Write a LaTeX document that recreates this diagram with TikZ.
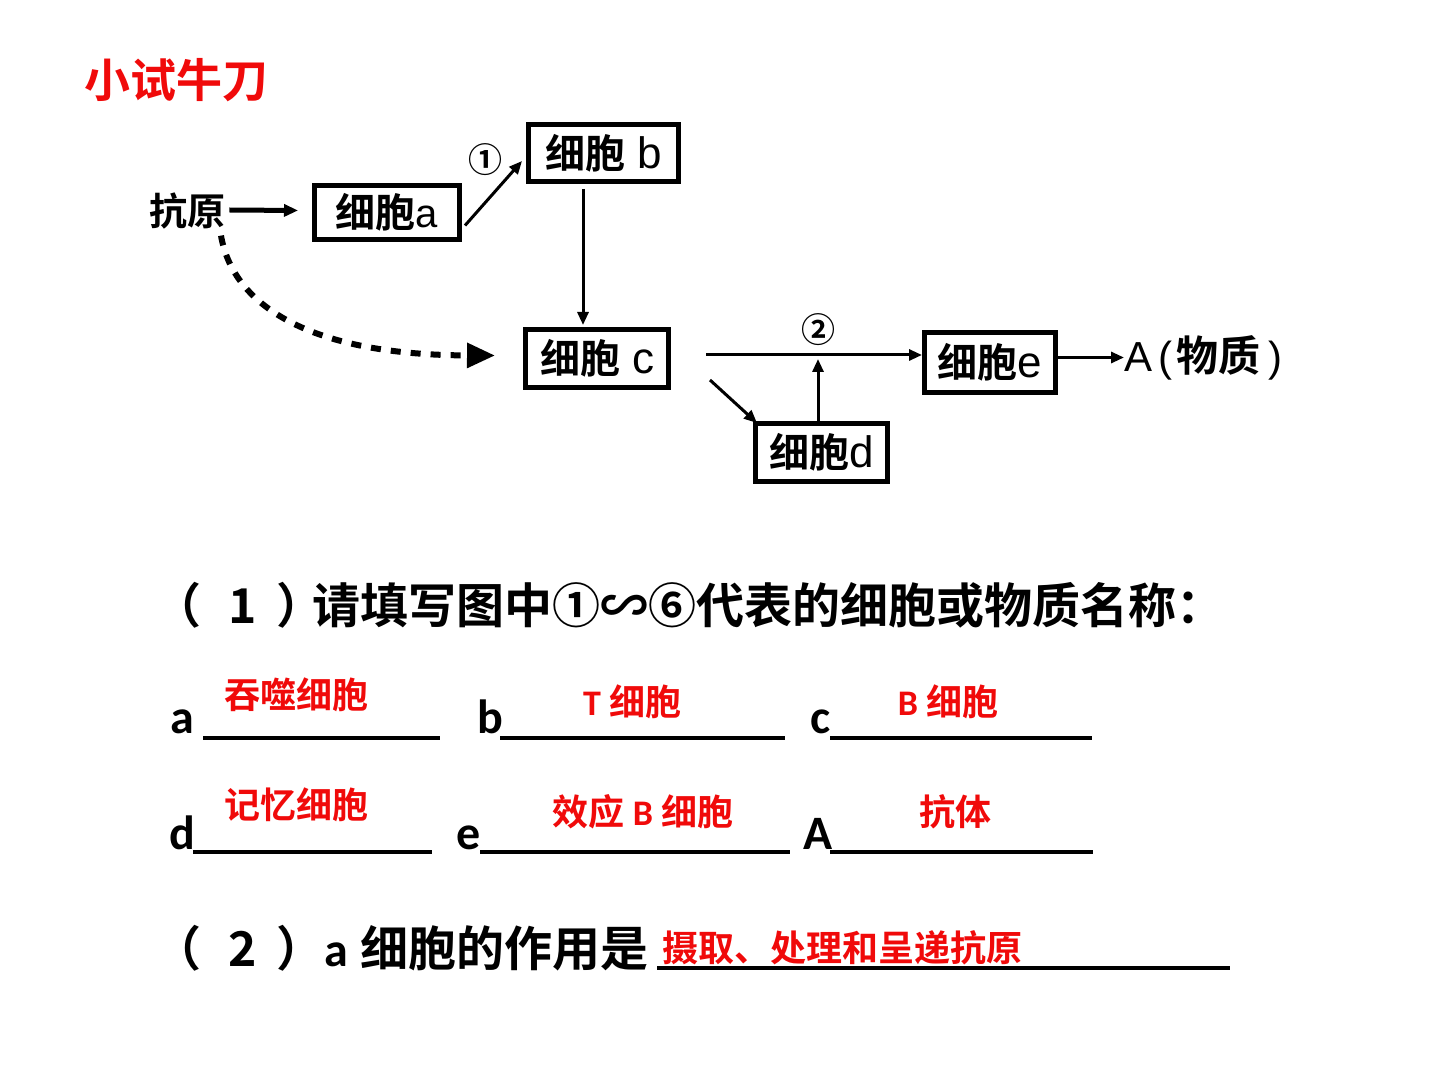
\documentclass[tikz,border=0pt]{standalone}
\usepackage{fontspec}
\usetikzlibrary{arrows.meta,calc}
\newfontfamily\cjk{Noto Sans CJK SC}[BoldFont={Noto Sans CJK SC Bold}]
\newfontfamily\lat{Carlito}
\newfontfamily\thin{Liberation Sans}
\definecolor{ansred}{RGB}{240,10,10}
\begin{document}
\begin{tikzpicture}[x=0.5pt,y=-0.5pt,
  cellbox/.style={draw, line width=2.5pt, inner sep=0pt, font=\cjk\bfseries\fontsize{20pt}{24pt}\selectfont},
  arr/.style={line width=1.5pt, -{Triangle[length=6.5pt,width=5.5pt]}},
  diatext/.style={inner sep=0pt, font=\cjk\bfseries\fontsize{19pt}{22pt}\selectfont},
  qtext/.style={inner sep=0pt, anchor=west, font=\cjk\bfseries\fontsize{24pt}{28pt}\selectfont},
  letter/.style={inner sep=0pt, anchor=base west, font=\lat\bfseries\fontsize{24pt}{28pt}\selectfont},
  answer/.style={inner sep=0pt, text=ansred, font=\cjk\bfseries\fontsize{18pt}{22pt}\selectfont},
  circnum/.style={inner sep=0pt, font=\cjk\bfseries\fontsize{17pt}{20pt}\selectfont},
  blank/.style={line width=2pt}
]
\useasboundingbox (0,0) rectangle (1440,1080);

% title
\node[inner sep=0pt, anchor=west, text=ansred, font=\cjk\bfseries\fontsize{23pt}{26pt}\selectfont] (title) at (84,80) {小试牛刀};

% diagram
\node[diatext] (ky) at (187,211) {抗原};
\node[cellbox, minimum width=145*0.5pt, minimum height=54*0.5pt] (ca) at (387,212.5) {细胞{\thin\mdseries a}};
\node[cellbox, minimum width=150*0.5pt, minimum height=57*0.5pt] (cb) at (603.5,153) {细胞\hspace{6pt}{\thin\mdseries\fontsize{22pt}{24pt}\selectfont b}};
\node[cellbox, minimum width=143*0.5pt, minimum height=58*0.5pt] (cc) at (597,358.5) {细胞\hspace{6pt}{\thin\mdseries\fontsize{22pt}{24pt}\selectfont c}};
\node[cellbox, minimum width=131*0.5pt, minimum height=60*0.5pt] (ce) at (990,362.5) {细胞{\thin\mdseries\fontsize{22pt}{24pt}\selectfont e}};
\node[cellbox, minimum width=132*0.5pt, minimum height=58*0.5pt] (cd) at (821.5,452.5) {细胞{\thin\mdseries\fontsize{22pt}{24pt}\selectfont d}};
\node[inner sep=0pt, anchor=west, font=\thin\fontsize{21pt}{24pt}\selectfont] (Am) at (1124,357.5) {A\hspace{3pt}(\hspace{2pt}{\cjk\bfseries 物质}\hspace{4pt})};
\node[circnum] (n1) at (485,160) {①};
\node[circnum] (n2) at (818,330) {②};

\coordinate (c1) at (706,355);
\coordinate (c2) at (710,380);

\draw[arr, line width=2.5pt, -{Triangle[length=7pt,width=6pt]}] (ky.east) ++(4,-1) -- ($(ca.west)+(-14,-2)$);
\draw[arr] ($(ca.east)+(3,13)$) -- ($(cb.west)+(-4,8)$);
\draw[arr] ($(cb.south)+(-20.5,5)$) -- ($(cc.north)+(-14,-2)$);
\draw[line width=3pt, dash pattern=on 5pt off 5pt, -{Triangle[length=14pt,width=12pt]}]
  ($(ky.south)+(34,6)$) .. controls (232,300) and (300,355) .. ($(cc.west)+(-28,-3)$);
\draw[arr] (c1) -- (c1 -| ce.west);
\draw[arr] ($(cd.north)+(-3.5,0)$) -- ($(c1 -| cd.north)+(-3.5,4)$);
\draw[arr] (c2) -- ($(cd.north west)+(4,2)$);
\draw[arr] (Am.west -| ce.east) -- (Am.west);

% question 1
\node[qtext] (q1) at (153,605) {（\hspace{13.5pt}1\hspace{10pt}）\hspace{-6pt}请填写图中①∽⑥代表的细胞或物质名称：};

\node[letter] (la) at (170,733) {a};
\node[letter] (lb) at (477,733) {b};
\node[letter] (lc) at (810,733) {c};
\draw[blank] (203,738) -- (440,738);
\draw[blank] (500,738) -- (785,738);
\draw[blank] (830,738) -- (1092,738);
\node[answer] (aa) at (296,695) {吞噬细胞};
\node[answer] (ab) at (632,702) {{\lat T} 细胞};
\node[answer] (ac) at (948,702) {{\lat B} 细胞};

\node[letter] (ld) at (169,849) {d};
\node[letter] (le) at (456,849) {e};
\node[letter] (lA) at (803,849) {A};
\draw[blank] (193,852) -- (432,852);
\draw[blank] (480,852) -- (790,852);
\draw[blank] (830,852) -- (1093,852);
\node[answer] (ad) at (296,805) {记忆细胞};
\node[answer] (ae) at (643,812) {效应 {\lat B} 细胞};
\node[answer] (aA) at (955,812) {抗体};

% question 2
\node[qtext] (q2) at (153,948) {（\hspace{13.5pt}2\hspace{10pt}）{\lat a}\hspace{6pt}细胞的作用是};
\draw[blank] (657,968) -- (1230,968);
\node[answer, anchor=west] (a2) at (662,948) {摄取、处理和呈递抗原};
\end{tikzpicture}
\end{document}
